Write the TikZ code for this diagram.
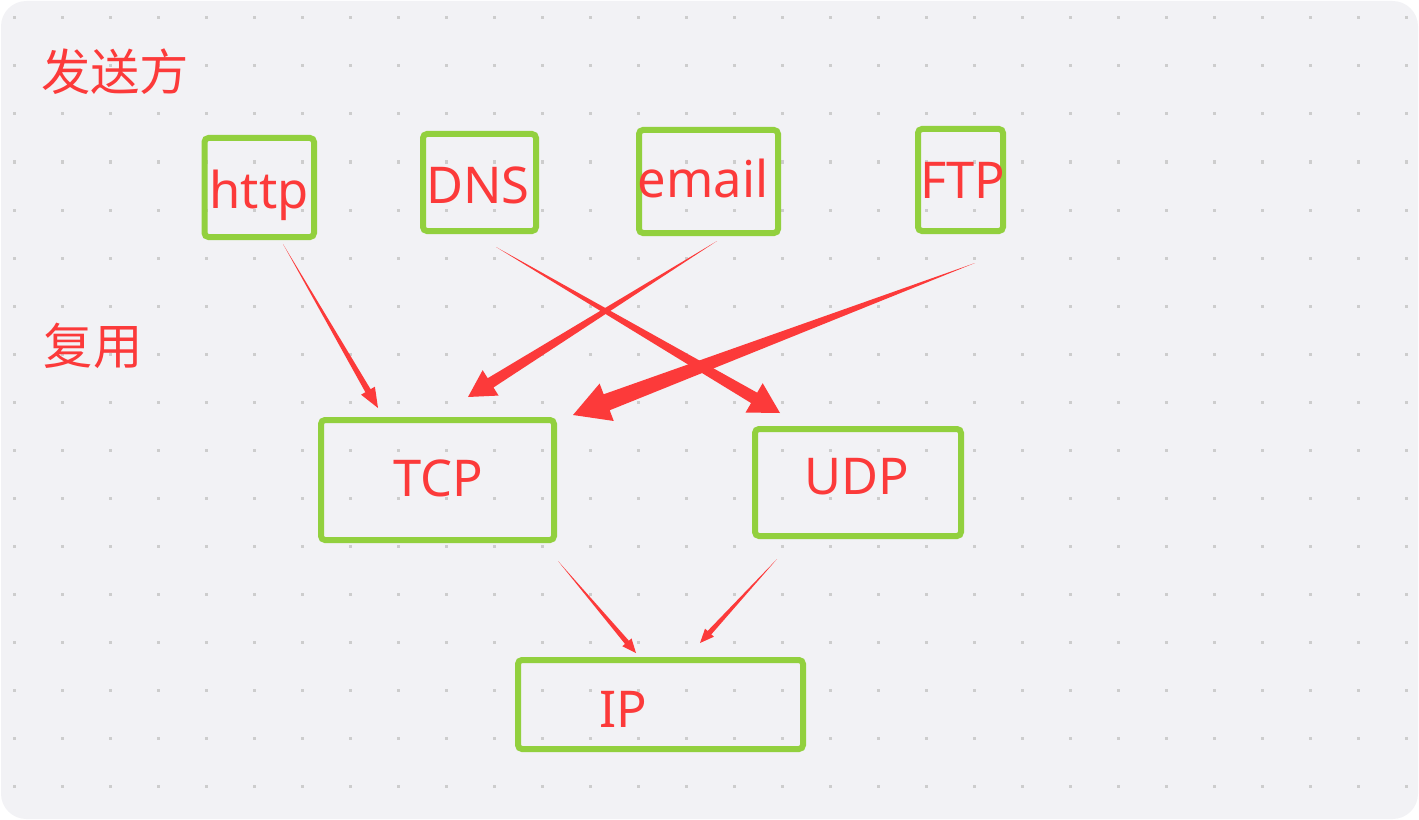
\documentclass[tikz,border=0pt]{standalone}
\usepackage{fontspec}
\setmainfont{Noto Sans}
\newfontfamily\cjk{Noto Sans CJK SC}
\usetikzlibrary{calc,fit}
\definecolor{appgreen}{RGB}{146,208,62}
\definecolor{appred}{RGB}{252,58,58}
\definecolor{boardgray}{RGB}{242,242,245}
\definecolor{dotgray}{RGB}{205,205,205}
\tikzset{
    appbox/.style={draw=appgreen, line width=4.5pt, rounded corners=3pt, inner sep=0pt},
    apptext/.style={text=appred, font=\fontsize{38}{44}\selectfont, inner sep=0pt, anchor=base},
    cjktext/.style={text=appred, font=\cjk\fontsize{37}{40}\selectfont, inner sep=0pt},
}
% tapered arrow: from, to, half shaft, head length, half head
\newcommand{\brush}[5]{%
    \coordinate (hb) at ($(#2)!#4!(#1)$);
    \fill[appred] (#1) -- ($(hb)!#3!90:(#2)$) -- ($(hb)!#5!90:(#2)$) -- (#2)
        -- ($(hb)!#5!-90:(#2)$) -- ($(hb)!#3!-90:(#2)$) -- cycle;
}
\begin{document}
\begin{tikzpicture}[x=0.75pt, y=-0.75pt]
    \useasboundingbox (0,0) rectangle (1419,820);
    \fill[boardgray, rounded corners=19pt] (1,1) rectangle (1418,819);
    \foreach \i in {0,...,29}
        \foreach \j in {0,...,16}
            \fill[dotgray] (12.5+48*\i,16.5+48*\j) rectangle (15.5+48*\i,19.5+48*\j);

    \node[appbox, fit={(204.5,138) (314,237)}] (http) {};
    \node[appbox, fit={(423,134) (536,231)}] (dns) {};
    \node[appbox, fit={(639,130) (778,233)}] (email) {};
    \node[appbox, fit={(918,129) (1003,231)}] (ftp) {};
    \node[appbox, fit={(321,420) (554,540)}] (tcp) {};
    \node[appbox, fit={(755,429) (961,536)}] (udp) {};
    \node[appbox, fit={(518,660) (803,749)}] (ip) {};

    \node[apptext] (httptxt) at (259,208) {http};
    \node[apptext] (dnstxt) at (478,203) {DNS};
    \node[apptext] (emailtxt) at (703,197) {email};
    \node[apptext] (ftptxt) at (963,198) {FTP};
    \node[apptext] (tcptxt) at (438,496) {TCP};
    \node[apptext] (udptxt) at (857,494) {UDP};
    \node[apptext] (iptxt) at (623,727) {IP};
    \node[cjktext] (sender) at (115,72) {发送方};
    \node[cjktext] (mux) at (93,346) {复用};

    \coordinate (httpout) at (283,244);
    \coordinate (tcpinA) at (378,408);
    \coordinate (dnsout) at (496,247);
    \coordinate (udpin) at (780,413);
    \coordinate (emailout) at (717,241);
    \coordinate (tcpinB) at (468,397);
    \coordinate (ftpout) at (975,263);
    \coordinate (tcpinC) at (573,415);
    \coordinate (tcpout) at (558,561);
    \coordinate (ipinA) at (636,653);
    \coordinate (udpout) at (777,559);
    \coordinate (ipinB) at (700,643);

    \brush{httpout}{tcpinA}{2.25pt}{15pt}{6pt}
    \brush{dnsout}{udpin}{4.5pt}{22.5pt}{12.75pt}
    \brush{emailout}{tcpinB}{4.1pt}{20pt}{11.25pt}
    \brush{ftpout}{tcpinC}{6.4pt}{27pt}{15pt}
    \brush{tcpout}{ipinA}{1.9pt}{10.5pt}{4.5pt}
    \brush{udpout}{ipinB}{1.9pt}{10.5pt}{4.5pt}
\end{tikzpicture}
\end{document}
